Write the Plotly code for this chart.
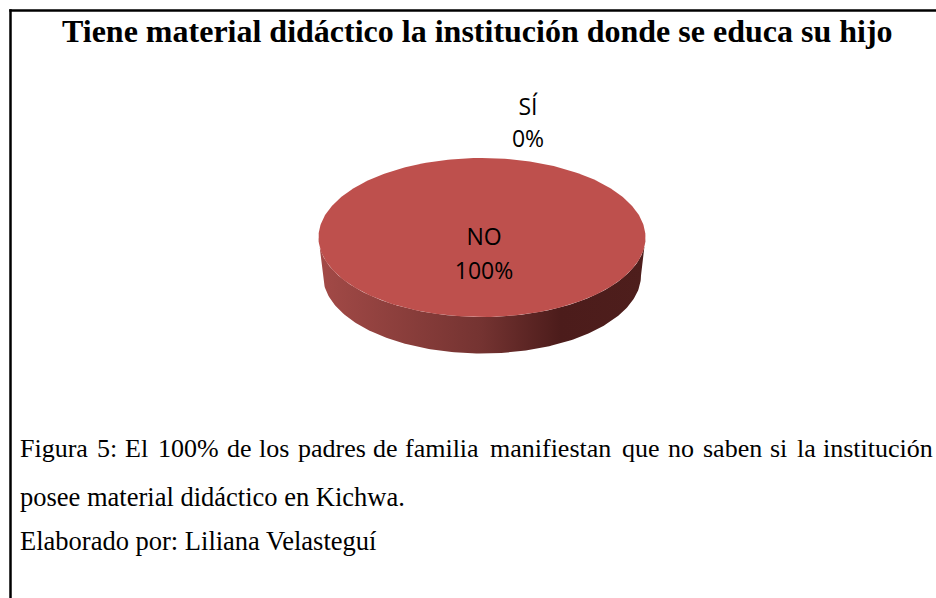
import numpy as np
import plotly.graph_objects as go

title = "Tiene material didáctico la institución donde se educa su hijo"
categories = ["SÍ", "NO"]
values = [0, 100]
caption_first = ["Figura", "5:", "El", "100%", "de", "los", "padres", "de", "familia",
                 "manifiestan", "que", "no", "saben", "si", "la", "institución"]
caption_first_x = [20, 97, 125, 158, 227, 258.5, 298, 373, 405,
                   490, 622, 668, 703, 770, 797, 823]
caption_rest = ["posee material didáctico en Kichwa.", "Elaborado por: Liliana Velasteguí"]
caption_rest_y = [497, 541]

# pie geometry in page pixels
cx, cy = 482, 237.5
rx, ry = 163.5, 79.5
base_cy, base_rx, base_ry = 275.5, 159, 78

fig = go.Figure()

# side wall
ang = np.linspace(0, np.pi, 181)
wall_x = np.r_[cx + rx * np.cos(ang), cx + base_rx * np.cos(ang[::-1])]
wall_y = np.r_[cy + ry * np.sin(ang), base_cy + base_ry * np.sin(ang[::-1])]
fig.add_trace(go.Scatter(
    x=wall_x, y=wall_y, mode="lines", fill="toself", line=dict(width=0),
    fillgradient=dict(type="horizontal", colorscale=[
        [0, "rgb(163,74,71)"], [0.5, "rgb(116,51,49)"],
        [0.74, "rgb(76,28,27)"], [1, "rgb(78,30,28)"]]),
    hoverinfo="skip", showlegend=False))

# top face: angle of each slice comes from the values
total = sum(values)
start = -np.pi / 2
for cat, val in zip(categories, values):
    sweep = 2 * np.pi * val / total
    if sweep > 0:
        ang = np.linspace(start, start + sweep, 361)
        fig.add_trace(go.Scatter(
            x=cx + rx * np.cos(ang), y=cy + ry * np.sin(ang),
            mode="lines", fill="toself", fillcolor="#BE504D",
            line=dict(width=0), name=cat, showlegend=False))
    start += sweep

# data labels
label_font = dict(family="Open Sans", size=23, color="#000000")
fig.add_trace(go.Scatter(
    x=[528, 484], y=[109, 239], mode="text", text=categories,
    textfont=label_font, hoverinfo="skip", showlegend=False))
fig.add_trace(go.Scatter(
    x=[528, 484], y=[141, 273], mode="text", text=["%d%%" % v for v in values],
    textfont=label_font, hoverinfo="skip", showlegend=False))

# frame
fig.add_shape(type="line", x0=9.3, x1=936, y0=10.5, y1=10.5,
              line=dict(color="black", width=2.5))
fig.add_shape(type="line", x0=10.5, x1=10.5, y0=9.3, y1=598,
              line=dict(color="black", width=2.5))

fig.add_annotation(x=477, y=31, text="<b>%s</b>" % title, showarrow=False,
                   font=dict(family="Liberation Serif", size=32, color="black"))
first_font = dict(family="Liberation Serif", size=26, color="black")
rest_font = dict(family="Liberation Serif", size=26.5, color="black")
for word, xx in zip(caption_first, caption_first_x):
    fig.add_annotation(x=xx, y=448, text=word, showarrow=False, xanchor="left",
                       font=first_font, xshift=-2)
for line, yy in zip(caption_rest, caption_rest_y):
    fig.add_annotation(x=20, y=yy, text=line, showarrow=False, xanchor="left",
                       font=rest_font, xshift=-2)

fig.update_xaxes(range=[0, 936], visible=False)
fig.update_yaxes(range=[598, 0], visible=False)
fig.update_layout(width=936, height=598, margin=dict(l=0, r=0, t=0, b=0),
                  plot_bgcolor="white", paper_bgcolor="white", showlegend=False)

# drop the default page margin so the figure fills the window
fig.write_html("out.html", config=dict(displayModeBar=False),
               post_script="document.body.style.margin='0';document.body.style.overflow='hidden';")
